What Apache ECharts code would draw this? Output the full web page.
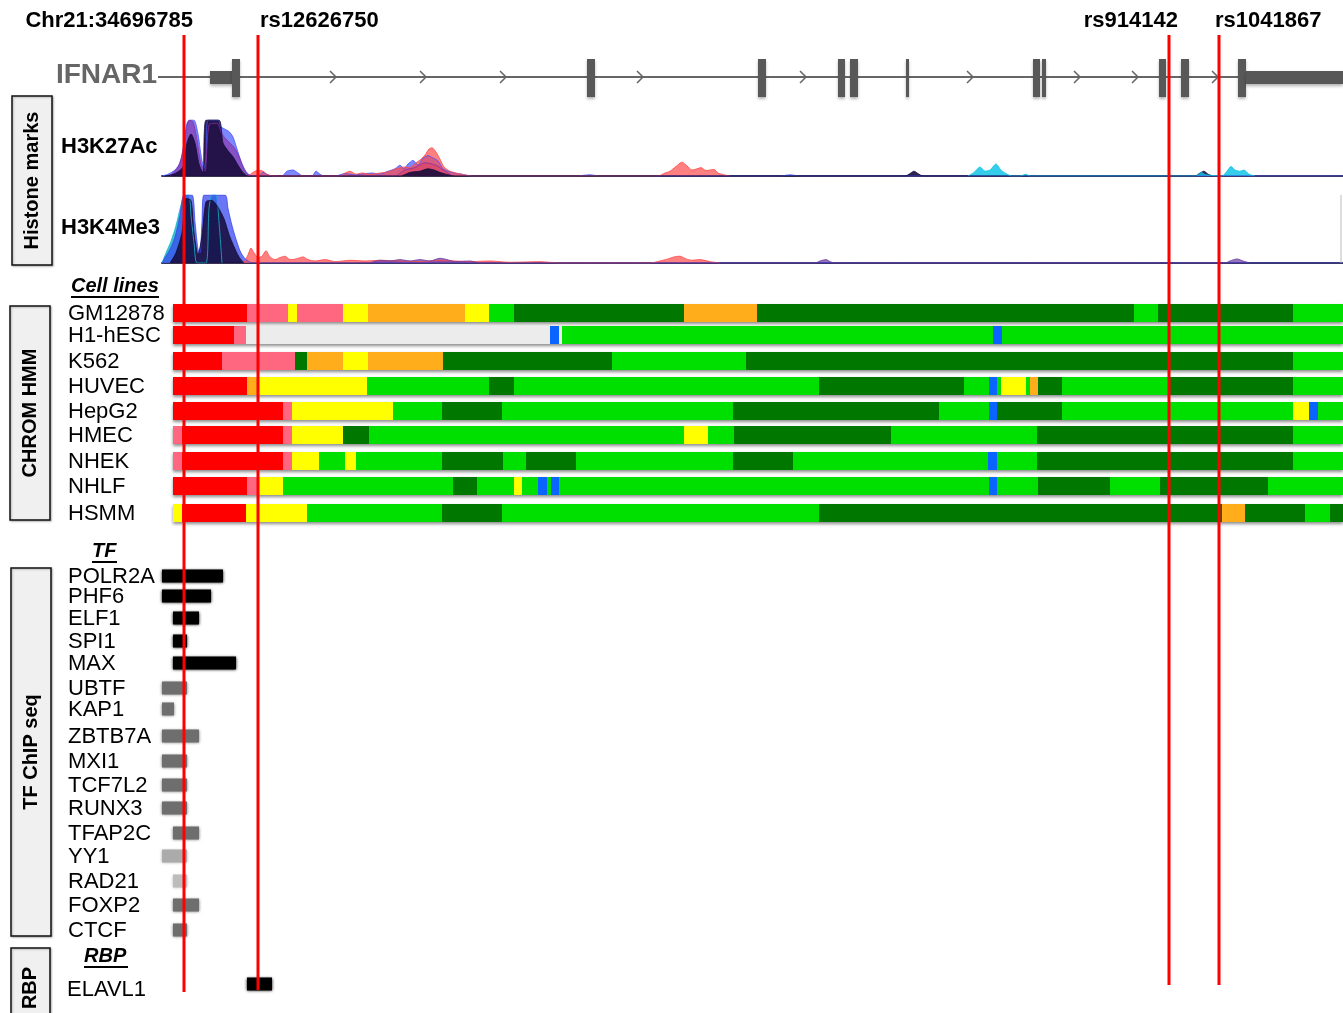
<!DOCTYPE html>
<html>
<head>
<meta charset="utf-8">
<script src="https://cdn.jsdelivr.net/npm/echarts@6/dist/echarts.min.js"></script>
<style>
  html, body { margin: 0; padding: 0; background: #fff; }
  #chart { width: 1343px; height: 1013px; }
</style>
</head>
<body>
<div id="chart"></div>
<script>
// ---- data (x = position along the locus, in track units) ----
var snpNames = ['Chr21:34696785', 'rs12626750', 'rs914142', 'rs1041867'];
var snpPos = [184, 258, 1169, 1219];

var geneName = 'IFNAR1';
var geneSpan = [158, 1343];
var exonStart = [210, 232, 587, 758, 838, 850, 906, 1033, 1042, 1159, 1181, 1238, 1246];
var exonEnd   = [233, 240, 595, 766, 845, 858, 909, 1040, 1046, 1166, 1189, 1246, 1343];
var exonType  = ['utr', 'cds', 'cds', 'cds', 'cds', 'cds', 'cds', 'cds', 'cds', 'cds', 'cds', 'cds', 'utr'];
var strandArrows = [333, 423, 503, 640, 803, 970, 1077, 1135, 1215];

// H3K27Ac signal (0-100), one array per overlaid cell line colour
var k27Blue = [[162,0],[168,3],[175,10],[180,22],[184,55],[187,88],[190,93],[194,93],[198,70],[201,35],[204,12],[206,30],[208,93],[218,93],[221,82],[225,78],[229,74],[233,65],[237,45],[241,25],[245,10],[249,2],[253,0],[258,0],[263,6],[268,2],[272,0],[282,0],[287,8],[293,10],[298,5],[303,0],[312,0],[316,8],[320,3],[324,0],[335,0],[345,4],[355,2],[365,4],[372,5],[380,3],[388,8],[395,12],[400,18],[404,12],[408,20],[413,26],[418,18],[422,28],[428,34],[433,30],[438,25],[443,12],[448,8],[455,5],[462,3],[470,0],[575,0],[590,2],[600,0],[780,0],[790,2],[800,0],[1343,0]];
var k27Red = [[248,0],[253,6],[258,10],[263,8],[268,2],[275,0],[340,0],[345,5],[350,8],[356,3],[362,5],[370,3],[380,5],[388,7],[396,12],[404,15],[410,14],[416,22],[421,28],[425,35],[429,45],[432,47],[436,40],[440,28],[444,15],[450,8],[458,4],[465,2],[472,0],[658,0],[665,5],[670,8],[676,16],[682,23],[687,17],[692,10],[697,12],[701,14],[706,9],[710,10],[714,11],[718,5],[724,2],[730,0]];
var k27Navy = [[165,0],[175,4],[183,15],[187,55],[191,70],[195,55],[199,20],[203,5],[206,93],[219,93],[223,55],[228,42],[233,32],[238,18],[243,6],[248,0],[400,0],[410,6],[420,8],[428,12],[434,10],[440,6],[448,2],[455,0],[905,0],[910,4],[914,8],[918,4],[923,0],[1195,0],[1200,5],[1204,8],[1208,3],[1213,0]];
var k27Purple = [[170,0],[178,15],[183,40],[186,75],[189,93],[193,90],[197,60],[201,20],[205,8],[209,85],[217,88],[222,70],[228,58],[234,48],[239,32],[243,15],[247,4],[252,0],[395,0],[405,10],[415,14],[425,22],[432,20],[438,16],[445,8],[452,0]];
var k27Cyan = [[968,0],[974,6],[980,15],[985,8],[990,10],[996,20],[1001,10],[1006,4],[1012,0],[1020,0],[1026,3],[1030,0],[1196,0],[1201,6],[1206,2],[1222,0],[1227,8],[1231,16],[1235,10],[1240,8],[1244,10],[1249,3],[1255,0]];

// H3K4Me3 signal (0-100)
var k4Blue = [[162,0],[165,8],[170,20],[175,38],[180,70],[184,100],[192,100],[195,60],[198,20],[200,15],[202,60],[204,100],[225,100],[228,80],[232,55],[236,35],[240,18],[244,8],[248,3],[252,0],[1343,0]];
var k4Cyan = [[162,0],[166,15],[171,32],[176,55],[181,85],[185,100],[189,100],[191,70],[194,30],[197,0],[206,0],[209,80],[212,100],[216,100],[219,60],[222,0]];
var k4Navy = [[170,0],[176,15],[182,45],[186,95],[191,92],[194,45],[198,12],[202,40],[206,90],[212,92],[218,82],[224,65],[229,42],[234,24],[239,9],[244,0]];
var k4Red = [[244,0],[248,12],[251,22],[254,15],[258,8],[262,10],[266,18],[270,9],[275,5],[280,8],[285,10],[290,5],[296,6],[303,9],[308,5],[315,3],[325,5],[335,2],[350,4],[365,3],[380,4],[400,3],[420,2],[440,4],[455,3],[470,2],[490,3],[510,1],[540,2],[560,0],[650,0],[660,3],[668,6],[674,9],[680,10],[686,6],[692,4],[700,5],[710,2],[720,0]];
var k4Purple = [[370,0],[380,4],[390,3],[400,5],[410,3],[420,5],[430,3],[440,7],[447,5],[455,2],[470,3],[480,0],[815,0],[820,3],[826,5],[830,2],[835,0],[1225,0],[1230,3],[1237,6],[1243,3],[1250,0]];

// ChromHMM segments: [start, end, state]
var cellLines = ['GM12878', 'H1-hESC', 'K562', 'HUVEC', 'HepG2', 'HMEC', 'NHEK', 'NHLF', 'HSMM'];
var hmmGM12878 = [[173,247,'R'],[247,288,'P'],[288,297,'Y'],[297,343,'P'],[343,368,'Y'],[368,465,'O'],[465,489,'Y'],[489,514,'G'],[514,684,'D'],[684,757,'O'],[757,1134,'D'],[1134,1158,'G'],[1158,1293,'D'],[1293,1343,'G']];
var hmmH1hESC = [[173,234,'R'],[234,246,'P'],[246,550,'W'],[550,559,'B'],[559,562,'W'],[562,993,'G'],[993,1002,'B'],[1002,1343,'G']];
var hmmK562 = [[173,222,'R'],[222,295,'P'],[295,307,'D'],[307,343,'O'],[343,368,'Y'],[368,443,'O'],[443,612,'D'],[612,746,'G'],[746,1293,'D'],[1293,1343,'G']];
var hmmHUVEC = [[173,247,'R'],[247,257,'O'],[257,367,'Y'],[367,489,'G'],[489,514,'D'],[514,819,'G'],[819,964,'D'],[964,989,'G'],[989,997,'B'],[997,1001,'G'],[1001,1026,'Y'],[1026,1030,'G'],[1030,1038,'O'],[1038,1062,'D'],[1062,1169,'G'],[1169,1293,'D'],[1293,1343,'G']];
var hmmHepG2 = [[173,283,'R'],[283,292,'P'],[292,393,'Y'],[393,442,'G'],[442,502,'D'],[502,733,'G'],[733,939,'D'],[939,989,'G'],[989,997,'B'],[997,1062,'D'],[1062,1293,'G'],[1293,1309,'Y'],[1309,1318,'B'],[1318,1343,'G']];
var hmmHMEC = [[173,182,'P'],[182,283,'R'],[283,292,'P'],[292,343,'Y'],[343,369,'D'],[369,684,'G'],[684,708,'Y'],[708,734,'G'],[734,891,'D'],[891,1037,'G'],[1037,1293,'D'],[1293,1343,'G']];
var hmmNHEK = [[173,182,'P'],[182,283,'R'],[283,292,'P'],[292,319,'Y'],[319,345,'G'],[345,356,'Y'],[356,442,'G'],[442,503,'D'],[503,526,'G'],[526,576,'D'],[576,733,'G'],[733,793,'D'],[793,988,'G'],[988,997,'B'],[997,1037,'G'],[1037,1293,'D'],[1293,1343,'G']];
var hmmNHLF = [[173,247,'R'],[247,259,'P'],[259,283,'Y'],[283,453,'G'],[453,477,'D'],[477,514,'G'],[514,522,'Y'],[522,538,'G'],[538,547,'B'],[547,551,'G'],[551,559,'B'],[559,989,'G'],[989,997,'B'],[997,1038,'G'],[1038,1110,'D'],[1110,1160,'G'],[1160,1268,'D'],[1268,1343,'G']];
var hmmHSMM = [[173,182,'Y'],[182,246,'R'],[246,307,'Y'],[307,442,'G'],[442,502,'D'],[502,819,'G'],[819,1222,'D'],[1222,1245,'O'],[1245,1305,'D'],[1305,1330,'G'],[1330,1343,'D']];

// TF ChIP-seq peaks
var tfNames = ['POLR2A', 'PHF6', 'ELF1', 'SPI1', 'MAX', 'UBTF', 'KAP1', 'ZBTB7A', 'MXI1', 'TCF7L2', 'RUNX3', 'TFAP2C', 'YY1', 'RAD21', 'FOXP2', 'CTCF'];
var tfStart = [162, 162, 173, 173, 173, 162, 162, 162, 162, 162, 162, 173, 162, 173, 173, 173];
var tfEnd   = [223, 211, 199, 187, 236, 187, 174, 199, 187, 187, 187, 199, 187, 187, 199, 187];
var tfScore = [1, 1, 1, 1, 1, 0.53, 0.53, 0.53, 0.53, 0.53, 0.53, 0.53, 0.27, 0.2, 0.53, 0.53];

// RBP
var rbpNames = ['ELAVL1'];
var rbpStart = [247];
var rbpEnd = [272];
var rbpScore = [1];

// ---- layout / style ----
var FONT = '"Liberation Sans", Arial, Helvetica, sans-serif';
var ROW_Y = [313, 335, 361, 386, 411, 435, 461, 486, 513];
var TF_Y = [576, 596, 618, 641, 663, 688, 709, 736, 761, 785, 808, 833, 856, 881, 905, 930];
var RBP_Y = [984];
var SNP_LINE_END = [992, 990, 985, 985];
var stateColor = { R: '#ff0000', P: '#ff6680', Y: '#ffff00', O: '#ffad1a', G: '#00e000', D: '#007800', W: '#ececec', B: '#0a64ff' };
var stateKeys = ['R', 'P', 'Y', 'O', 'G', 'D', 'W', 'B'];

var hmmRows = [hmmGM12878, hmmH1hESC, hmmK562, hmmHUVEC, hmmHepG2, hmmHMEC, hmmNHEK, hmmNHLF, hmmHSMM];
var hmmData = [];
var hmmRowData = [];
hmmRows.forEach(function (row, i) {
  hmmRowData.push([row[0][0], row[row.length - 1][1], i]);
  row.forEach(function (seg) {
    hmmData.push([seg[0], seg[1], i, stateKeys.indexOf(seg[2])]);
  });
});

var exonData = exonStart.map(function (s, i) { return [s, exonEnd[i], exonType[i] === 'cds' ? 1 : 0]; });
var tfData = tfNames.map(function (n, i) { return [tfStart[i], tfEnd[i], i, tfScore[i]]; });
var rbpData = rbpNames.map(function (n, i) { return [rbpStart[i], rbpEnd[i], i, rbpScore[i]]; });
var snpData = snpPos.map(function (p, i) { return [p, i]; });

function grey(score) {
  var v = Math.round(255 * (1 - score) * 0.92);
  return 'rgb(' + v + ',' + v + ',' + v + ')';
}

function box(api, x0, x1, y0, y1, style) {
  var p0 = api.coord([x0, y0]);
  var p1 = api.coord([x1, y1]);
  return { type: 'rect', shape: { x: p0[0], y: p0[1], width: p1[0] - p0[0], height: p1[1] - p0[1] }, style: style };
}

function txt(text, x, y, size, opts) {
  opts = opts || {};
  return {
    type: 'text', x: x, y: y, rotation: opts.rotation || 0, z: 50,
    style: {
      text: text, fill: opts.color || '#000',
      font: (opts.italic ? 'italic ' : '') + (opts.bold ? 'bold ' : '') + size + 'px ' + FONT,
      align: opts.align || 'left', textAlign: opts.align || 'left',
      verticalAlign: 'middle', textVerticalAlign: 'middle'
    }
  };
}

function sideBox(x, y, w, h, label) {
  return [
    { type: 'rect', z: 40, shape: { x: x, y: y, width: w, height: h },
      style: { fill: '#f0f0f0', stroke: '#111', lineWidth: 1.5, shadowBlur: 2, shadowColor: 'rgba(0,0,0,0.25)', shadowOffsetX: 1, shadowOffsetY: 1 } },
    txt(label, x + w / 2, y + h / 2, 20, { bold: true, align: 'center', rotation: Math.PI / 2 })
  ];
}

function underline(x0, x1, y) {
  return { type: 'line', z: 50, shape: { x1: x0, y1: y, x2: x1, y2: y }, style: { stroke: '#000', lineWidth: 2 } };
}

var graphics = [];
graphics.push(txt(snpNames[0], snpPos[0] + 9, 21, 22, { bold: true, align: 'right' }));
graphics.push(txt(snpNames[1], snpPos[1] + 2, 21, 22, { bold: true }));
graphics.push(txt(snpNames[2], snpPos[2] + 9, 21, 22, { bold: true, align: 'right' }));
graphics.push(txt(snpNames[3], snpPos[3] - 4, 21, 22, { bold: true }));
graphics.push(txt(geneName, 157, 75, 28, { bold: true, align: 'right', color: '#666' }));
graphics.push(txt('H3K27Ac', 61, 147, 22, { bold: true }));
graphics.push(txt('H3K4Me3', 61, 228, 22, { bold: true }));
graphics.push(txt('Cell lines', 71, 286, 20, { bold: true, italic: true }));
graphics.push(underline(71, 159, 297));
graphics.push(txt('TF', 92, 551, 20, { bold: true, italic: true }));
graphics.push(underline(92, 117, 562));
graphics.push(txt('RBP', 84, 956, 20, { bold: true, italic: true }));
graphics.push(underline(84, 128, 967));
cellLines.forEach(function (n, i) { graphics.push(txt(n, 68, ROW_Y[i] + 1, 22)); });
tfNames.forEach(function (n, i) { graphics.push(txt(n, 68, TF_Y[i] + 1, 22)); });
rbpNames.forEach(function (n, i) { graphics.push(txt(n, 67, RBP_Y[i] + 6, 22)); });
graphics = graphics.concat(sideBox(12, 96, 40, 169, 'Histone marks'));
graphics = graphics.concat(sideBox(10, 306, 40, 214, 'CHROM HMM'));
graphics = graphics.concat(sideBox(11, 568, 40, 368, 'TF ChIP seq'));
graphics = graphics.concat(sideBox(11, 948, 39, 80, 'RBP'));
graphics.push({ type: 'line', z: 5, shape: { x1: 1341, y1: 195, x2: 1341, y2: 263 }, style: { stroke: '#bbb', lineWidth: 1 } });

function area(data, color, opacity, idx) {
  return {
    type: 'line', xAxisIndex: idx, yAxisIndex: idx, data: data, symbol: 'none', smooth: 0.25,
    lineStyle: { width: 0.8, color: color }, areaStyle: { color: color, opacity: opacity },
    silent: true, z: 3
  };
}

var trackX = function (idx) {
  return {
    type: 'value', gridIndex: idx, min: 162, max: 1343,
    axisLine: { show: true, onZero: false, lineStyle: { color: '#3b3350', width: 2 } },
    axisTick: { show: false }, axisLabel: { show: false }, splitLine: { show: false }
  };
};
var trackY = function (idx) {
  return { type: 'value', gridIndex: idx, min: 0, max: 100, show: false, splitLine: { show: false } };
};

var option = {
  animation: false,
  backgroundColor: '#fff',
  grid: [
    { left: 0, top: 0, width: 1343, height: 1013 },
    { left: 162, top: 116, width: 1181, height: 60 },
    { left: 162, top: 195, width: 1181, height: 68 }
  ],
  xAxis: [
    { type: 'value', gridIndex: 0, min: 0, max: 1343, show: false, splitLine: { show: false } },
    trackX(1), trackX(2)
  ],
  yAxis: [
    { type: 'value', gridIndex: 0, min: 0, max: 1013, inverse: true, show: false, splitLine: { show: false } },
    trackY(1), trackY(2)
  ],
  graphic: { elements: graphics },
  series: [
    // gene backbone
    {
      type: 'custom', xAxisIndex: 0, yAxisIndex: 0, data: [geneSpan], z: 4,
      renderItem: function (params, api) {
        var a = api.coord([api.value(0), 77]);
        var b = api.coord([api.value(1), 77]);
        return { type: 'line', shape: { x1: a[0], y1: a[1], x2: b[0], y2: b[1] }, style: { stroke: '#666', lineWidth: 2 } };
      }
    },
    // strand arrows
    {
      type: 'custom', xAxisIndex: 0, yAxisIndex: 0, data: strandArrows.map(function (p) { return [p]; }), z: 4,
      renderItem: function (params, api) {
        var c = api.coord([api.value(0), 77]);
        return { type: 'polyline', shape: { points: [[c[0] - 3, c[1] - 6], [c[0] + 3, c[1]], [c[0] - 3, c[1] + 6]] },
          style: { stroke: '#666', lineWidth: 1.5, fill: null } };
      }
    },
    // exons
    {
      type: 'custom', xAxisIndex: 0, yAxisIndex: 0, data: exonData, z: 5,
      renderItem: function (params, api) {
        var cds = api.value(2) === 1;
        return box(api, api.value(0), api.value(1), cds ? 59 : 71, cds ? 97 : 84,
          { fill: '#585858', shadowBlur: 3, shadowColor: 'rgba(0,0,0,0.3)', shadowOffsetY: 2 });
      }
    },
    // histone marks
    area(k27Blue, '#4455ff', 0.7, 1),
    area(k27Purple, '#8a2f9e', 0.6, 1),
    area(k27Red, '#ff4a4a', 0.7, 1),
    area(k27Navy, '#180c3a', 0.9, 1),
    area(k27Cyan, '#12c4e6', 0.85, 1),
    area(k4Cyan, '#18b8c8', 0.85, 2),
    area(k4Blue, '#3a48f0', 0.75, 2),
    area(k4Navy, '#140a36', 0.85, 2),
    area(k4Red, '#ff4a4a', 0.7, 2),
    area(k4Purple, '#6a3aa0', 0.7, 2),
    // chromHMM row shadows
    {
      type: 'custom', xAxisIndex: 0, yAxisIndex: 0, data: hmmRowData, z: 5,
      renderItem: function (params, api) {
        var y = ROW_Y[api.value(2)];
        return box(api, api.value(0), api.value(1), y - 9, y + 9,
          { fill: '#888', shadowBlur: 3, shadowColor: 'rgba(0,0,0,0.45)', shadowOffsetY: 2 });
      }
    },
    // chromHMM states
    {
      type: 'custom', xAxisIndex: 0, yAxisIndex: 0, data: hmmData, z: 6,
      renderItem: function (params, api) {
        var y = ROW_Y[api.value(2)];
        return box(api, api.value(0), api.value(1), y - 9, y + 9, { fill: stateColor[stateKeys[api.value(3)]] });
      }
    },
    // TF peaks
    {
      type: 'custom', xAxisIndex: 0, yAxisIndex: 0, data: tfData, z: 6,
      renderItem: function (params, api) {
        var y = TF_Y[api.value(2)];
        var c = grey(api.value(3));
        return box(api, api.value(0), api.value(1), y - 6.5, y + 6.5, { fill: c, shadowBlur: 3, shadowColor: c });
      }
    },
    // RBP peaks
    {
      type: 'custom', xAxisIndex: 0, yAxisIndex: 0, data: rbpData, z: 6,
      renderItem: function (params, api) {
        var y = RBP_Y[api.value(2)];
        var c = grey(api.value(3));
        return box(api, api.value(0), api.value(1), y - 6.5, y + 6.5, { fill: c, shadowBlur: 3, shadowColor: c });
      }
    },
    // SNP lines
    {
      type: 'custom', xAxisIndex: 0, yAxisIndex: 0, data: snpData, z: 20,
      renderItem: function (params, api) {
        var x = api.value(0);
        return box(api, x - 1.5, x + 1.5, 35, SNP_LINE_END[api.value(1)], { fill: '#ff0000' });
      }
    }
  ]
};

var chart = echarts.init(document.getElementById('chart'));
chart.setOption(option);
window.addEventListener('resize', function () { chart.resize(); });
</script>
</body>
</html>
